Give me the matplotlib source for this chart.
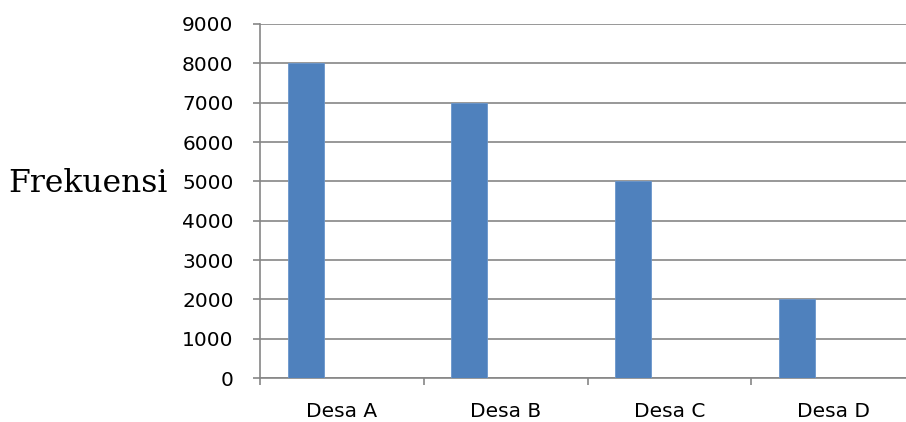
import matplotlib.pyplot as plt
import numpy as np

# data
villages = ["Desa A", "Desa B", "Desa C", "Desa D"]
frequencies = [8000, 7000, 5000, 2000]
y_ticks = [0, 1000, 2000, 3000, 4000, 5000, 6000, 7000, 8000, 9000]

grid_grey = "#868686"
bar_blue = "#4F81BD"

fig = plt.figure(figsize=(9.06, 4.22), dpi=100)
# axes runs a bit past the right edge, like the cropped original
ax = fig.add_axes([260 / 906, 44 / 422, 655 / 906, 354 / 422])

x = np.arange(len(villages))
# excel-style: bar sits in the left part of each category slot
ax.bar(x - 0.221, frequencies, width=0.22, color=bar_blue,
       edgecolor="#6A96CC", linewidth=0.6, zorder=3)

ax.set_xlim(-0.5, len(villages) - 0.5)
ax.set_ylim(0, 9000)
ax.set_yticks(y_ticks)
ax.set_xticks(np.arange(len(villages) + 1) - 0.5)
ax.set_xticklabels([])
ax.set_xticks(x, minor=True)
ax.set_xticklabels(villages, minor=True)

ax.yaxis.grid(True, color=grid_grey, linewidth=1.2, zorder=0)
for side in ["top", "right"]:
    ax.spines[side].set_visible(False)
for side in ["left", "bottom"]:
    ax.spines[side].set_color(grid_grey)
    ax.spines[side].set_linewidth(1.2)

ax.tick_params(axis="y", which="major", length=5, width=1.2, color=grid_grey,
               labelsize=14.5, pad=14)
ax.tick_params(axis="x", which="major", length=5, width=1.2, color=grid_grey)
ax.tick_params(axis="x", which="minor", length=0, labelsize=14.5, pad=17)
for lbl in ax.get_yticklabels() + ax.get_xticklabels(minor=True):
    lbl.set_fontfamily("DejaVu Sans")

fig.text(8 / 906, 1 - 192 / 422, "Frekuensi", family="DejaVu Serif",
         fontsize=22.6, ha="left", va="baseline")

fig.savefig("out.png", dpi=100)
